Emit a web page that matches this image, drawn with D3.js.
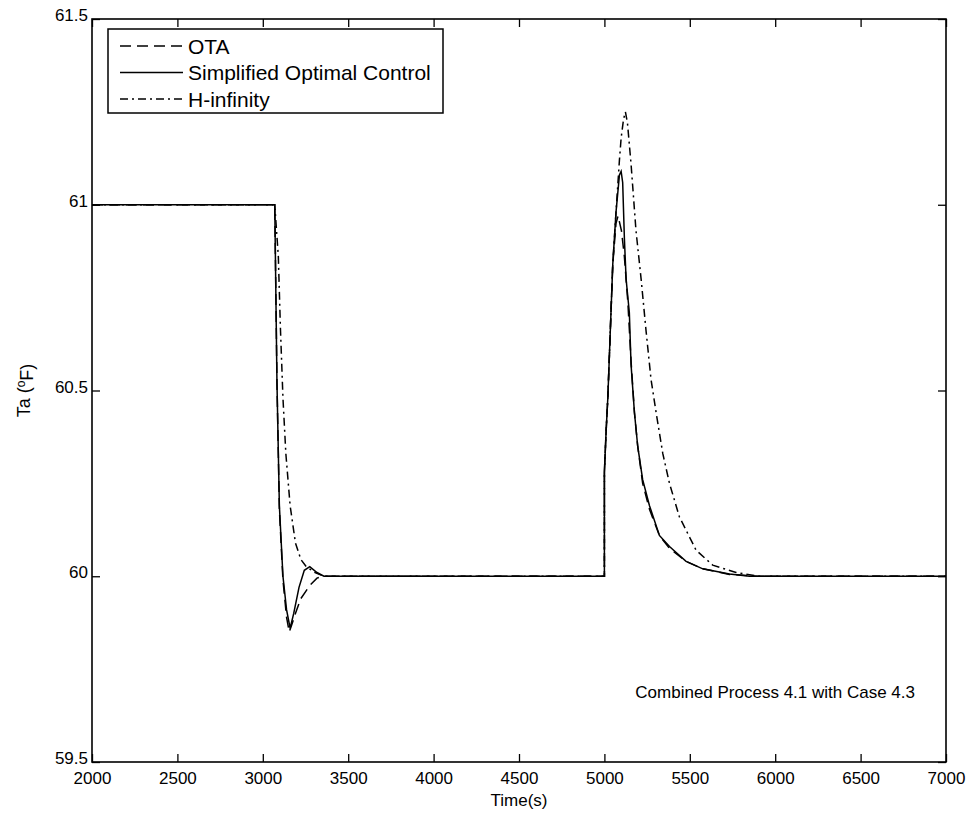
<!DOCTYPE html>
<html>
<head>
<meta charset="utf-8">
<script src="https://cdn.jsdelivr.net/npm/d3@7"></script>
<style>
  body { margin: 0; background: #fff; }
  svg { display: block; font-family: "Liberation Sans", Arial, sans-serif; }
</style>
</head>
<body>
<svg id="chart" width="967" height="820"></svg>
<script>
// ---- data ----
const xTicks = [2000, 2500, 3000, 3500, 4000, 4500, 5000, 5500, 6000, 6500, 7000];
const yTicks = [59.5, 60, 60.5, 61, 61.5];
const yTickLabels = ["59.5", "60", "60.5", "61", "61.5"];
const seriesNames = ["OTA", "Simplified Optimal Control", "H-infinity"];

const otaTime = [2000, 3070, 3083, 3097, 3118, 3139, 3155, 3170, 3191, 3223, 3275, 3317, 3358,
  5000, 5000, 5010, 5020, 5049, 5068, 5080, 5100, 5117, 5137, 5156, 5176, 5195, 5224, 5264, 5322, 5381, 5478, 5576, 5732, 5900, 7000];
const otaTemp = [61, 61, 60.52, 60.18, 59.99, 59.89, 59.85, 59.87, 59.90, 59.94, 59.975, 59.995, 60,
  60, 60.28, 60.39, 60.48, 60.84, 60.95, 60.97, 60.93, 60.86, 60.74, 60.58, 60.44, 60.35, 60.25, 60.18, 60.11, 60.075, 60.04, 60.02, 60.005, 60, 60];

const socTime = [2000, 3070, 3083, 3097, 3118, 3139, 3160, 3181, 3212, 3243, 3275, 3317, 3358,
  5000, 5000, 5010, 5020, 5049, 5068, 5088, 5098, 5107, 5117, 5127, 5146, 5156, 5176, 5195, 5224, 5264, 5322, 5381, 5478, 5576, 5732, 5850, 7000];
const socTemp = [61, 61, 60.52, 60.19, 60.0, 59.91, 59.86, 59.90, 59.97, 60.016, 60.026, 60.01, 60,
  60, 60.28, 60.39, 60.48, 60.84, 60.98, 61.08, 61.09, 61.06, 60.91, 60.80, 60.71, 60.57, 60.44, 60.35, 60.26, 60.19, 60.11, 60.08, 60.04, 60.02, 60.006, 60, 60];

const hinfTime = [2000, 3070, 3091, 3103, 3118, 3135, 3160, 3191, 3223, 3254, 3306, 3358,
  5000, 5000, 5010, 5020, 5049, 5068, 5088, 5098, 5112, 5123, 5135, 5156, 5185, 5215, 5244, 5273, 5303, 5342, 5381, 5439, 5537, 5634, 5771, 5900, 7000];
const hinfTemp = [61, 61, 60.86, 60.67, 60.48, 60.33, 60.19, 60.09, 60.045, 60.026, 60.01, 60,
  60, 60.28, 60.39, 60.48, 60.84, 60.98, 61.12, 61.18, 61.23, 61.25, 61.22, 61.11, 60.93, 60.80, 60.66, 60.53, 60.44, 60.33, 60.25, 60.16, 60.07, 60.03, 60.01, 60, 60];

// ---- layout ----
const svg = d3.select("#chart");
const L = 92, R = 946, T = 19, B = 762;
const x = d3.scaleLinear().domain([2000, 7000]).range([L, R]);
const y = d3.scaleLinear().domain([59.5, 61.5]).range([B, T]);

const dashes = ["11,6", null, "8,4,2,4"];
const series = [
  { t: otaTime, v: otaTemp },
  { t: socTime, v: socTemp },
  { t: hinfTime, v: hinfTemp }
];

const line = d3.line().x(d => x(d[0])).y(d => y(d[1]));

const g = svg.append("g");
series.forEach((s, i) => {
  const pts = s.t.map((t, k) => [t, s.v[k]]);
  g.append("path")
    .attr("d", line(pts))
    .attr("fill", "none")
    .attr("stroke", "#000")
    .attr("stroke-width", 1.5)
    .attr("stroke-dasharray", dashes[i]);
});

// axes (matlab style: ticks inward, box)
const fs = 17;
const xAxisB = d3.axisBottom(x).tickValues(xTicks).tickSize(-8).tickPadding(5).tickFormat(d3.format("d"));
const xAxisT = d3.axisTop(x).tickValues(xTicks).tickSize(-8).tickFormat("");
const yAxisL = d3.axisLeft(y).tickValues(yTicks).tickSize(-8).tickPadding(4).tickFormat((d, i) => yTickLabels[i]);
const yAxisR = d3.axisRight(y).tickValues(yTicks).tickSize(-8).tickFormat("");

function style(sel) {
  sel.select(".domain").remove();
  sel.selectAll("line").attr("stroke", "#000").attr("stroke-width", 1.3);
  sel.selectAll("text").attr("fill", "#000").style("font-size", fs + "px")
    .style("font-family", "'Liberation Sans', Arial, sans-serif");
}
svg.append("g").attr("transform", `translate(0,${B})`).call(xAxisB).call(style)
  .selectAll("text").attr("dy", "1.0em");
svg.append("g").attr("transform", `translate(0,${T})`).call(xAxisT).call(style);
svg.append("g").attr("transform", `translate(${L},0)`).call(yAxisL).call(style)
  .selectAll("text").attr("dy", "0.1em");
svg.append("g").attr("transform", `translate(${R},0)`).call(yAxisR).call(style);

svg.append("rect").attr("x", L).attr("y", T).attr("width", R - L).attr("height", B - T)
  .attr("fill", "none").attr("stroke", "#000").attr("stroke-width", 1.6);

// labels
svg.append("text").attr("x", x(4500)).attr("y", 806).attr("text-anchor", "middle")
  .style("font-size", "17px").text("Time(s)");

const yl = svg.append("text").attr("transform", `translate(30,${y(60.5)}) rotate(-90)`)
  .attr("text-anchor", "middle").style("font-size", "18px");
yl.append("tspan").text("Ta (");
yl.append("tspan").attr("dy", "-0.45em").style("font-size", "12px").text("o");
yl.append("tspan").attr("dy", "0.45em").text("F)");

svg.append("text").attr("x", 915).attr("y", 698).attr("text-anchor", "end")
  .style("font-size", "17px").text("Combined Process 4.1 with Case 4.3");

// legend
const lg = svg.append("g");
lg.append("rect").attr("x", 108).attr("y", 29).attr("width", 335).attr("height", 84)
  .attr("fill", "#fff").attr("stroke", "#000").attr("stroke-width", 1.5);
seriesNames.forEach((name, i) => {
  const yy = 46 + i * 26.5;
  lg.append("line").attr("x1", 120).attr("x2", 183).attr("y1", yy).attr("y2", yy)
    .attr("stroke", "#000").attr("stroke-width", 1.4).attr("stroke-dasharray", dashes[i]);
  lg.append("text").attr("x", 188).attr("y", yy + 7.5).style("font-size", "21px").text(name);
});
</script>
</body>
</html>
